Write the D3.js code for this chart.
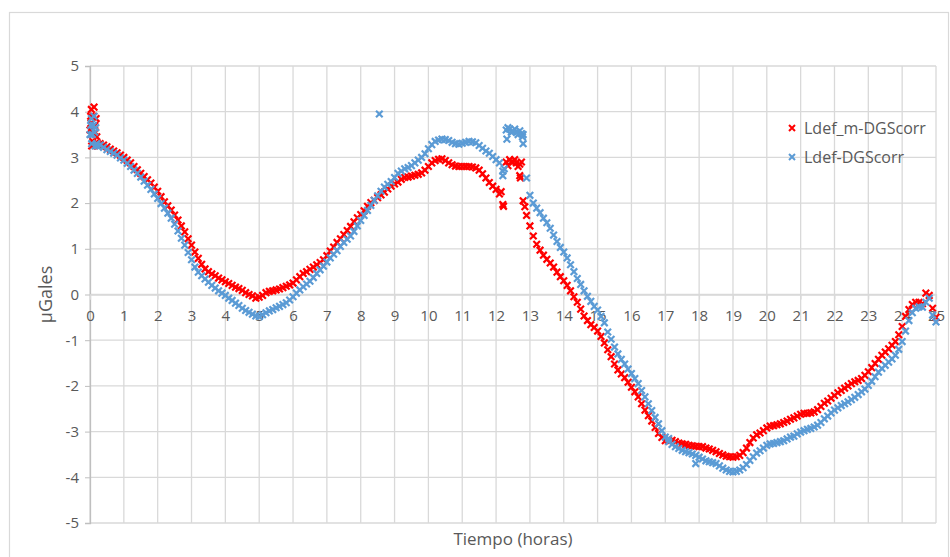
<!DOCTYPE html>
<html>
<head>
<meta charset="utf-8">
<script src="https://cdn.jsdelivr.net/npm/d3@7"></script>
<style>
  html, body { margin: 0; padding: 0; background: #fff; }
  svg { display: block; }
</style>
</head>
<body>
<svg id="chart" width="950" height="557"></svg>
<script>
// Muestreo regular: una lectura cada 0.1 h desde la hora 0
const paso = 0.1;

// Ldef_m-DGScorr (µGales), de 0 a 25 h
const ldefM = [
  3.6, 3.9, 3.45, 3.3, 3.27, 3.23, 3.18, 3.14, 3.1, 3.05,
  3.0, 2.94, 2.88, 2.8, 2.73, 2.65, 2.58, 2.51, 2.44, 2.35,
  2.26, 2.14, 2.03, 1.94, 1.85, 1.74, 1.63, 1.5, 1.37, 1.22,
  1.08, 0.93, 0.79, 0.66, 0.56, 0.5, 0.45, 0.41, 0.36, 0.32,
  0.28, 0.24, 0.2, 0.16, 0.13, 0.09, 0.04, 0.0, -0.03, -0.08,
  -0.06, -0.02, 0.04, 0.07, 0.08, 0.1, 0.12, 0.15, 0.18, 0.21,
  0.25, 0.32, 0.39, 0.46, 0.5, 0.55, 0.6, 0.65, 0.7, 0.76,
  0.85, 0.95, 1.04, 1.14, 1.22, 1.31, 1.4, 1.49, 1.59, 1.68,
  1.75, 1.83, 1.93, 2.01, 2.06, 2.12, 2.18, 2.24, 2.31, 2.37,
  2.42, 2.46, 2.52, 2.56, 2.57, 2.59, 2.61, 2.63, 2.66, 2.72,
  2.8, 2.88, 2.93, 2.96, 2.97, 2.93, 2.88, 2.84, 2.81, 2.8,
  2.8, 2.8, 2.8, 2.79, 2.77, 2.72, 2.64, 2.55, 2.45, 2.37,
  2.3, 2.2, 1.97, 2.9, 2.95, 2.9, 2.88, 2.85, 2.05, 1.73,
  1.5, 1.28, 1.1, 0.97, 0.86, 0.77, 0.69, 0.6, 0.49, 0.39,
  0.3, 0.2, 0.08, -0.05, -0.17, -0.32, -0.47, -0.57, -0.66, -0.72,
  -0.8, -0.92, -1.06, -1.21, -1.36, -1.52, -1.65, -1.74, -1.82, -1.92,
  -2.03, -2.13, -2.24, -2.39, -2.53, -2.65, -2.77, -2.91, -3.04, -3.13,
  -3.2, -3.2, -3.19, -3.22, -3.25, -3.27, -3.28, -3.3, -3.31, -3.32,
  -3.33, -3.33, -3.36, -3.38, -3.41, -3.44, -3.48, -3.51, -3.54, -3.55,
  -3.56, -3.55, -3.52, -3.46, -3.36, -3.24, -3.14, -3.07, -3.03, -2.98,
  -2.92, -2.88, -2.87, -2.85, -2.83, -2.8, -2.77, -2.73, -2.7, -2.66,
  -2.62, -2.6, -2.6, -2.59, -2.57, -2.52, -2.45, -2.38, -2.33, -2.27,
  -2.21, -2.15, -2.1, -2.05, -2.0, -1.95, -1.91, -1.88, -1.84, -1.77,
  -1.69, -1.6, -1.51, -1.42, -1.33, -1.26, -1.19, -1.11, -1.03, -0.88,
  -0.7, -0.48, -0.33, -0.22, -0.17, -0.17, -0.2, 0.03, -0.02, -0.3,
  -0.5
];

// Ldef-DGScorr (µGales), de 0 a 25 h
const ldef = [
  3.5, 3.7, 3.3, 3.27, 3.22, 3.17, 3.13, 3.09, 3.05, 2.99,
  2.94, 2.87, 2.8, 2.72, 2.65, 2.57, 2.48, 2.39, 2.3, 2.2,
  2.1, 1.99, 1.89, 1.78, 1.67, 1.54, 1.39, 1.23, 1.08, 0.92,
  0.76, 0.6, 0.49, 0.41, 0.34, 0.27, 0.2, 0.14, 0.08, 0.03,
  -0.02, -0.08, -0.13, -0.19, -0.24, -0.3, -0.35, -0.39, -0.43, -0.47,
  -0.48, -0.44, -0.4, -0.36, -0.33, -0.29, -0.26, -0.22, -0.18, -0.12,
  -0.05, 0.03, 0.1, 0.17, 0.23, 0.29, 0.37, 0.46, 0.54, 0.62,
  0.71, 0.8, 0.88, 0.96, 1.05, 1.14, 1.21, 1.28, 1.38, 1.5,
  1.62, 1.73, 1.84, 1.95, 2.06, 2.16, 2.26, 2.35, 2.41, 2.47,
  2.56, 2.65, 2.7, 2.75, 2.78, 2.82, 2.88, 2.94, 3.0, 3.08,
  3.19, 3.28, 3.35, 3.38, 3.4, 3.39, 3.37, 3.33, 3.3, 3.29,
  3.31, 3.33, 3.35, 3.34, 3.32, 3.26, 3.2, 3.14, 3.09, 3.02,
  2.95, 2.88, 2.7, 3.6, 3.62, 3.57, 3.55, 3.58, 3.5, 2.55,
  2.17, 2.0, 1.89, 1.79, 1.67, 1.57, 1.45, 1.3, 1.16, 1.03,
  0.93, 0.8, 0.65, 0.5, 0.35, 0.22, 0.08, -0.04, -0.15, -0.26,
  -0.34, -0.48, -0.62, -0.82, -0.98, -1.15, -1.3, -1.42, -1.52, -1.63,
  -1.73, -1.84, -1.95, -2.1, -2.24, -2.39, -2.54, -2.69, -2.83, -2.98,
  -3.12, -3.22, -3.28, -3.33, -3.37, -3.41, -3.44, -3.46, -3.49, -3.52,
  -3.56, -3.6, -3.64, -3.66, -3.68, -3.7, -3.75, -3.8, -3.84, -3.87,
  -3.88, -3.87, -3.84, -3.79, -3.72, -3.63, -3.55, -3.47, -3.42, -3.36,
  -3.3, -3.27, -3.26, -3.24, -3.22, -3.2, -3.16, -3.12, -3.1, -3.05,
  -3.01, -2.98, -2.95, -2.93, -2.9, -2.86, -2.8, -2.72, -2.66, -2.59,
  -2.53, -2.48, -2.43, -2.39, -2.35, -2.3, -2.25, -2.19, -2.13, -2.07,
  -1.99, -1.9, -1.8, -1.7, -1.62, -1.55, -1.48, -1.41, -1.33, -1.2,
  -1.03, -0.8, -0.57, -0.4, -0.3, -0.27, -0.28, -0.17, -0.08, -0.45,
  -0.6
];

// Lecturas sueltas fuera de la rejilla de 0.1 h: [hora, µGales]
const ldefMExtra = [
  [0.02, 3.9], [0.03, 3.75], [0.04, 4.05], [0.05, 3.25], [0.06, 3.5],
  [0.08, 3.35], [0.12, 4.1], [0.14, 3.7], [0.15, 3.3], [0.16, 3.55],
  [0.18, 3.85], [0.22, 3.3], [0.25, 3.25],
  [12.15, 2.25], [12.22, 1.93], [12.35, 2.82], [12.45, 2.9], [12.55, 2.95],
  [12.65, 2.8], [12.7, 2.6], [12.72, 2.55], [12.75, 2.9], [12.85, 1.92]
];
const ldefExtra = [
  [0.02, 3.7], [0.04, 3.85], [0.05, 3.3], [0.07, 3.5], [0.12, 3.9],
  [0.14, 3.55], [0.15, 3.25], [0.17, 3.65], [0.22, 3.25],
  [8.55, 3.95],
  [12.2, 2.6], [12.24, 2.75], [12.32, 3.4], [12.35, 3.65], [12.45, 3.55],
  [12.55, 3.62], [12.65, 3.5], [12.75, 3.52], [12.78, 3.45], [12.8, 3.3],
  [17.1, -3.15], [17.9, -3.7]
];

// Ejes
const xTicks = d3.range(0, 26, 1);
const yTicks = [-5, -4, -3, -2, -1, 0, 1, 2, 3, 4, 5];

const series = [
  { nombre: "Ldef_m-DGScorr", valores: ldefM, extra: ldefMExtra, color: "#FF0000" },
  { nombre: "Ldef-DGScorr", valores: ldef, extra: ldefExtra, color: "#5B9BD5" }
];

const svg = d3.select("#chart");
const W = 950, H = 557;
const plot = { left: 90, right: 936, top: 66, bottom: 523 };

const x = d3.scaleLinear().domain([0, 25]).range([plot.left, plot.right]);
const y = d3.scaleLinear().domain([-5, 5]).range([plot.bottom, plot.top]);

const fontFam = "'Open Sans', 'Liberation Sans', sans-serif";
const textCol = "#595959";
const gridCol = "#d9d9d9";

// Marco exterior del gráfico
svg.append("rect")
  .attr("x", 9.5).attr("y", 12.5)
  .attr("width", W - 11).attr("height", H)
  .attr("fill", "#fff").attr("stroke", gridCol).attr("stroke-width", 1.2);

// Rejilla
const grid = svg.append("g");
grid.selectAll("line.v").data(xTicks).join("line")
  .attr("x1", d => x(d)).attr("x2", d => x(d))
  .attr("y1", plot.top).attr("y2", plot.bottom)
  .attr("stroke", gridCol).attr("stroke-width", 1.3);
grid.selectAll("line.h").data(yTicks).join("line")
  .attr("x1", plot.left).attr("x2", plot.right)
  .attr("y1", d => y(d)).attr("y2", d => y(d))
  .attr("stroke", gridCol).attr("stroke-width", 1.3);

// Eje vertical
const yAxis = d3.axisLeft(y).tickValues(yTicks).tickSize(5).tickPadding(6).tickFormat(d3.format("d"));
const gy = svg.append("g").attr("transform", `translate(${plot.left},0)`).call(yAxis);
gy.select(".domain").attr("stroke", "#bfbfbf").attr("stroke-width", 1.3);
gy.selectAll(".tick line").attr("stroke", "#bfbfbf");
gy.selectAll(".tick text").attr("fill", textCol).style("font-family", fontFam).style("font-size", "15px")
  .text(d => d < 0 ? "-" + Math.abs(d) : d);

// Eje horizontal cruzando en 0
const xAxis = d3.axisBottom(x).tickValues(xTicks).tickSize(5).tickPadding(11).tickFormat(d3.format("d"));
const gx = svg.append("g").attr("transform", `translate(0,${y(0)})`).call(xAxis);
gx.select(".domain").attr("stroke", gridCol).attr("stroke-width", 1.3);
gx.selectAll(".tick line").attr("stroke", gridCol);
gx.selectAll(".tick text").attr("fill", textCol).style("font-family", fontFam).style("font-size", "15px");

// Títulos de ejes
svg.append("text")
  .attr("x", 513).attr("y", 545)
  .attr("text-anchor", "middle")
  .attr("fill", textCol).style("font-family", fontFam).style("font-size", "17px")
  .text("Tiempo (horas)");
svg.append("text")
  .attr("transform", `translate(52,${y(0)}) rotate(-90)`)
  .attr("text-anchor", "middle")
  .attr("fill", textCol).style("font-family", fontFam).style("font-size", "18px")
  .text("µGales");

// Marcador en aspa
const aspa = s => `M${-s},${-s}L${s},${s}M${-s},${s}L${s},${-s}`;

const marcas = svg.append("g");
series.forEach(s => {
  const puntos = s.valores.map((v, i) => [i * paso, v]).concat(s.extra);
  marcas.append("g").selectAll("path").data(puntos).join("path")
    .attr("transform", d => `translate(${x(d[0])},${y(d[1])})`)
    .attr("d", aspa(3.3))
    .attr("stroke", s.color).attr("stroke-width", 2.2)
    .attr("fill", "none");
});

// Leyenda
const leg = svg.append("g").attr("transform", "translate(792,128)");
series.forEach((s, i) => {
  const g = leg.append("g").attr("transform", `translate(0,${i * 29})`);
  g.append("path").attr("d", aspa(3)).attr("stroke", s.color).attr("stroke-width", 2).attr("fill", "none");
  g.append("text").attr("x", 12).attr("y", 5.5)
    .attr("fill", textCol).style("font-family", fontFam).style("font-size", "16px")
    .text(s.nombre);
});
</script>
</body>
</html>
